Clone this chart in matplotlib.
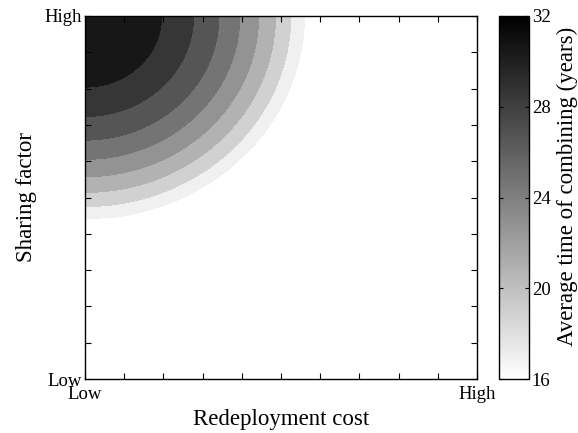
import numpy as np
import matplotlib
matplotlib.use("Agg")
import matplotlib.pyplot as plt
from matplotlib.cm import ScalarMappable
from matplotlib.colors import Normalize

plt.rcParams["font.family"] = ["Liberation Serif", "DejaVu Serif"]

# contour boundaries: distance from the top-left corner
# (axes fraction) at which each level is reached
levels = [32, 30, 28, 26, 24, 22, 20, 18, 16]
boundary_radius = [0.0, 0.196, 0.277, 0.342, 0.395, 0.443, 0.486, 0.525, 0.560]
cbar_ticks = [16, 20, 24, 28, 32]
x_ticklabels = ["Low", "High"]
y_ticklabels = ["Low", "High"]

n = 400
xs = np.linspace(0, 1, n)
ys = np.linspace(0, 1, n)
X, Y = np.meshgrid(xs, ys)
R = np.hypot(X, 1 - Y)
Z = np.interp(R, boundary_radius, levels)
Z = np.ma.masked_where(R > boundary_radius[-1], Z)

fig = plt.figure(figsize=(5.78, 4.33), dpi=100)
ax = fig.add_axes([85 / 578, 54 / 433, 392 / 578, 363 / 433])
cax = fig.add_axes([499 / 578, 54 / 433, 30 / 578, 363 / 433])

ax.contourf(X, Y, Z, levels=sorted(levels), cmap="gray_r",
            norm=Normalize(16, 32.5))

ax.set_xlim(0, 1)
ax.set_ylim(0, 1)
ax.set_xticks(np.linspace(0, 1, 11))
ax.set_yticks(np.linspace(0, 1, 11))
ax.set_xticklabels([x_ticklabels[0]] + [""] * 9 + [x_ticklabels[1]])
ax.set_yticklabels([y_ticklabels[0]] + [""] * 9 + [y_ticklabels[1]])
ax.tick_params(direction="in", top=True, right=True, length=4, width=0.8,
               labelsize=13.5, pad=2)
ax.tick_params(axis="x", pad=5)
for s in ax.spines.values():
    s.set_linewidth(1.0)
ax.set_xlabel("Redeployment cost", fontsize=16.5, labelpad=4)
ax.set_ylabel("Sharing factor", fontsize=16.5, labelpad=6)

sm = ScalarMappable(norm=Normalize(16, 32), cmap="gray_r")
cb = fig.colorbar(sm, cax=cax, ticks=cbar_ticks)
cb.outline.set_linewidth(1.0)
cax.tick_params(direction="in", left=True, right=True, length=3, width=0.8,
                labelsize=13.5, pad=2)
cb.set_label("Average time of combining (years)", fontsize=16.5)
cax.yaxis.set_label_coords(1.93, 0.53)

fig.savefig("out.png", dpi=100)
